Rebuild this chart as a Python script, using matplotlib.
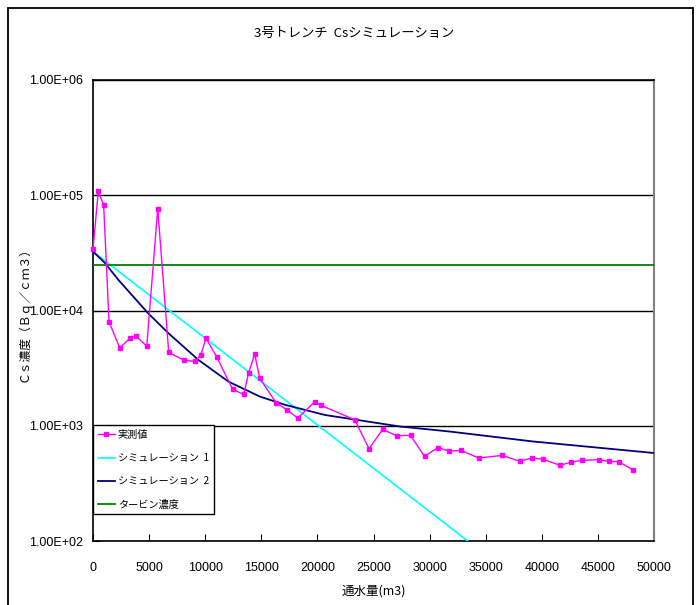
import numpy as np
import matplotlib
matplotlib.use("Agg")
import matplotlib.pyplot as plt
from matplotlib.patches import Rectangle
from matplotlib.ticker import FuncFormatter, NullLocator

plt.rcParams['font.family'] = ['Liberation Sans', 'Noto Sans CJK JP', 'DejaVu Sans']

# measured values (実測値)
meas_x = [0, 470, 950, 1430, 2380, 3320, 3830, 4790, 5770, 6750, 8140, 9090,
          9600, 10070, 11030, 12450, 13430, 13880, 14410, 14860, 16310, 17290,
          18250, 19760, 20320, 23330, 24600, 25820, 27070, 28300, 29550, 30720,
          31770, 32770, 34380, 36480, 38030, 39100, 40080, 41620, 42610, 43560,
          45070, 45960, 46860, 48130]
meas_y = [34000, 108000, 82400, 7980, 4750, 5760, 6000, 4900, 76700, 4330, 3690, 3620,
          4100, 5760, 3950, 2070, 1870, 2890, 4180, 2580, 1590, 1370,
          1166, 1610, 1500, 1127, 632, 929, 819, 825, 542, 646,
          603, 611, 525, 553, 491, 525, 514, 453, 484, 501,
          508, 491, 488, 413]

# simulation 1
sim1_x = [0, 17100, 33400]
sim1_y = [32500, 1680, 100]

# simulation 2
sim2_x = [0, 1070, 2250, 4900, 6710, 9390, 12060, 14880, 17110, 20680,
          27360, 30330, 31820, 39240, 49850, 50000]
sim2_y = [32500, 25800, 18500, 9490, 6370, 3730, 2420, 1790, 1520, 1240,
          985, 921, 890, 730, 582, 580]

# turbine concentration
turb_x = [0, 50000]
turb_y = [25000, 25000]

x_ticks = list(range(0, 50001, 5000))
y_ticks = [1e2, 1e3, 1e4, 1e5, 1e6]

jp = ['Noto Sans CJK JP', 'DejaVu Sans']

fig = plt.figure(figsize=(6.99, 6.05), dpi=100)

# outer chart frame
fig.patches.append(Rectangle((8 / 699, -0.05), 685 / 699, 1.05 - 8 / 605,
                             transform=fig.transFigure, fill=False,
                             edgecolor='black', linewidth=1.3))

ax = fig.add_axes([93 / 699, 64 / 605, 561 / 699, 461 / 605])

ax.plot(meas_x, meas_y, color='#FF00FF', marker='s', markersize=3.5,
        linewidth=1, label='実測値', zorder=5, clip_on=False)
ax.plot(sim1_x, sim1_y, color='#00FFFF', linewidth=1.2, label='シミュレーション  1', zorder=4)
ax.plot(sim2_x, sim2_y, color='#000080', linewidth=1.3, label='シミュレーション  2', zorder=4)
ax.plot(turb_x, turb_y, color='#008000', linewidth=1.3, label='タービン濃度', zorder=4)

ax.set_yscale('log')
ax.set_ylim(1e2, 1e6)
ax.set_xlim(0, 50000)
ax.set_xticks(x_ticks)
ax.set_yticks(y_ticks)
ax.yaxis.set_minor_locator(NullLocator())
ax.yaxis.set_major_formatter(FuncFormatter(lambda v, p: f"{v:.2E}"))
ax.tick_params(axis='both', direction='in', length=5, labelsize=9, colors='black')
ax.tick_params(axis='x', pad=15)
ax.tick_params(axis='y', pad=7)

ax.grid(True, axis='y', color='black', linewidth=1)
ax.set_axisbelow(True)
for side in ['left', 'bottom', 'top']:
    ax.spines[side].set_color('black')
    ax.spines[side].set_linewidth(1.2)
ax.spines['right'].set_color('#808080')
ax.spines['right'].set_linewidth(1.5)

fig.text(354 / 699, 1 - 33 / 605, '3号トレンチ  Csシミュレーション', ha='center', va='center',
         fontsize=9.5, family=jp)
ax.set_xlabel('通水量(m3)', fontsize=9, family=jp, labelpad=8)
fig.text(24 / 699, 1 - 311 / 605, 'Ｃｓ濃度（Ｂｑ／ｃｍ３）', rotation=90, ha='center', va='center',
         fontsize=8.5, family=jp)

leg = ax.legend(loc='lower left', bbox_to_anchor=(0.0, 0.058), borderaxespad=0,
                fancybox=False, edgecolor='black', framealpha=1,
                handlelength=1.7, handletextpad=0.3, labelspacing=1.3,
                borderpad=0.45, prop={'family': jp, 'size': 7.3})
leg.get_frame().set_linewidth(1)
leg.set_zorder(10)

fig.savefig('out.png', dpi=100)
